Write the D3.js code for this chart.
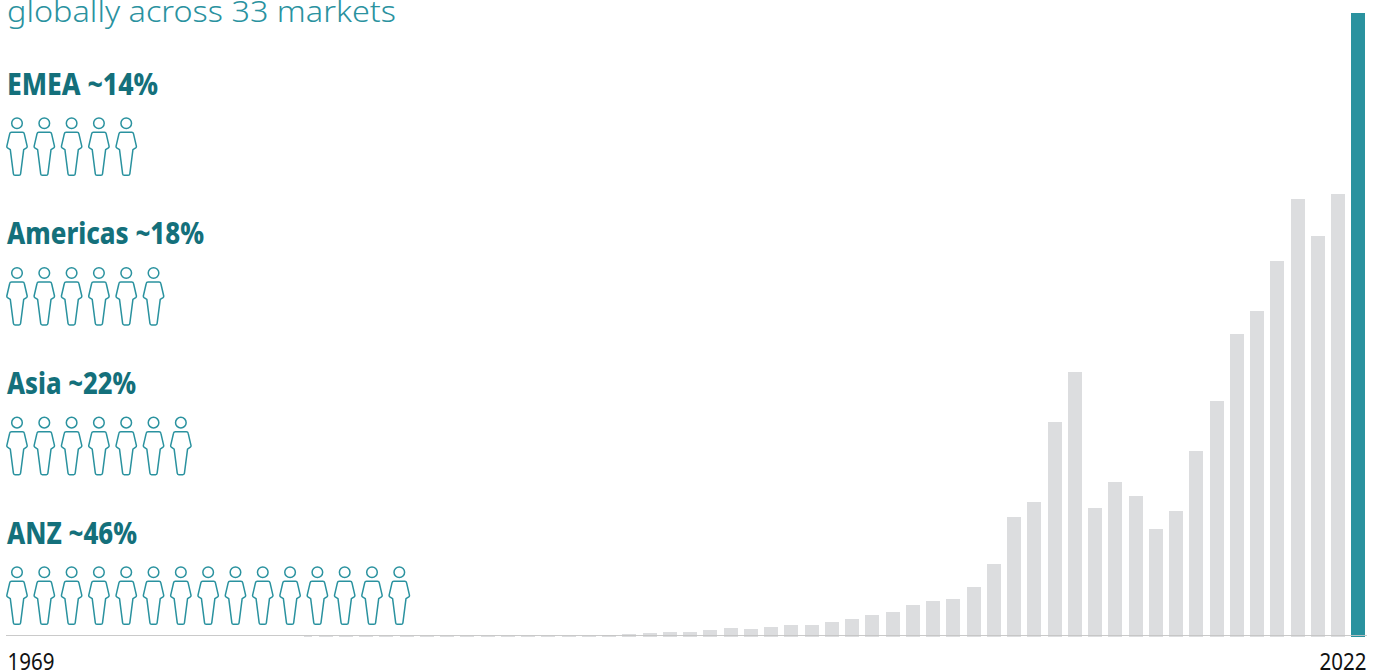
<!DOCTYPE html>
<html>
<head>
<meta charset="utf-8">
<script src="https://cdn.jsdelivr.net/npm/d3@7/dist/d3.min.js"></script>
<style>
html,body{margin:0;padding:0;background:#fff;overflow:hidden}
svg{display:block}
</style>
</head>
<body>
<svg id="chart" width="1381" height="671"></svg>
<script>
const years = d3.range(1969, 2023);
const profit = [8,8,8,8,8,8,8,8,8,8,8,8,8,8,8,8,12,20,27,34,34,48,61,55,68,82,82,102,123,150,170,218,245,259,341,497,818,920,1465,1806,879,1056,961,736,859,1267,1608,2065,2221,2562,2985,2732,3019,4252];
const regions = ["EMEA","Americas","Asia","ANZ"];
const shares = ["~14%","~18%","~22%","~46%"];
const figureCounts = [5,6,7,15];
const headline = "globally across 33 markets";
const tickLabels = ["1969","2022"];
const headingWidths = [151,197,129,130];

const W = 1381, H = 671;
const svg = d3.select("#chart");
const teal = "#2a929f", dark = "#14707b", grey = "#dcdddf";

const x = d3.scaleBand().domain(years).range([278.15, 1365.4]).paddingInner(0.30864).paddingOuter(0);
const y = d3.scaleLinear().domain([0, 4252]).range([637, 13]);

svg.append("g").selectAll("rect").data(years).join("rect")
  .attr("x", d => Math.round(x(d))).attr("width", Math.round(x.bandwidth()))
  .attr("y", (d,i) => y(profit[i])).attr("height", (d,i) => y(0) - y(profit[i]))
  .attr("fill", d => d === 2022 ? teal : grey)
  .attr("shape-rendering", "crispEdges");

// the text panel sits over the earliest bars
svg.append("rect").attr("x",0).attr("y",0).attr("width",304).attr("height",H).attr("fill","#fff");

// baseline + end labels
const xAxisScale = d3.scalePoint().domain(tickLabels).range([7, 1366]);
const axisG = svg.append("g").attr("transform","translate(0,636)")
  .call(d3.axisBottom(xAxisScale).tickSize(0).tickPadding(0));
axisG.select(".domain").remove();
axisG.selectAll("text")
  .attr("y", 33.6).attr("dy", 0)
  .attr("text-anchor", (d,i) => i === 0 ? "start" : "end")
  .attr("font-family", "'Noto Sans'").attr("font-size", 23.5).attr("fill", "#111")
  .attr("textLength", 47).attr("lengthAdjust", "spacingAndGlyphs");
svg.append("line").attr("x1",6).attr("x2",1367).attr("y1",635.5).attr("y2",635.5)
  .attr("stroke","#c4c4c4").attr("stroke-opacity",0.9).attr("stroke-width",1.2);

svg.append("text").text(headline)
  .attr("x",7).attr("y",22)
  .attr("font-family","'Noto Sans'").attr("font-weight",300).attr("font-size",30)
  .attr("fill",teal).attr("textLength",389).attr("lengthAdjust","spacingAndGlyphs");

const rowY = d3.scalePoint().domain(regions).range([94, 543]);
const figX = d3.scaleLinear().domain([0, 14]).range([17, 399.3]);
const personBody = "M-5.5,9 L5.5,9 Q7,9 7.3,10.5 L10.2,23 Q10.3,24 9.5,24.6 L6.7,26.4 L3.6,50.5 Q3.4,52 2,52 L-2,52 Q-3.4,52 -3.6,50.5 L-6.7,26.4 L-9.5,24.6 Q-10.3,24 -10.2,23 L-7.3,10.5 Q-7,9 -5.5,9Z";

const rows = svg.append("g").selectAll("g").data(regions).join("g")
  .attr("transform", d => `translate(0,${rowY(d)})`);

rows.append("text")
  .text((d,i) => `${d} ${shares[i]}`)
  .attr("x",7).attr("y",0.6)
  .attr("font-family","'Noto Sans'").attr("font-weight",800).attr("font-size",30)
  .attr("fill",dark)
  .attr("textLength",(d,i) => headingWidths[i]).attr("lengthAdjust","spacingAndGlyphs");

rows.each(function(d,i){
  const g = d3.select(this).selectAll("g.p").data(d3.range(figureCounts[i])).join("g")
    .attr("class","p")
    .attr("transform", k => `translate(${figX(k)},29.3)`)
    .attr("fill","none").attr("stroke",teal).attr("stroke-width",1.5);
  g.append("circle").attr("r",5.3);
  g.append("path").attr("d",personBody).attr("stroke-linejoin","round");
});
</script>
</body>
</html>
